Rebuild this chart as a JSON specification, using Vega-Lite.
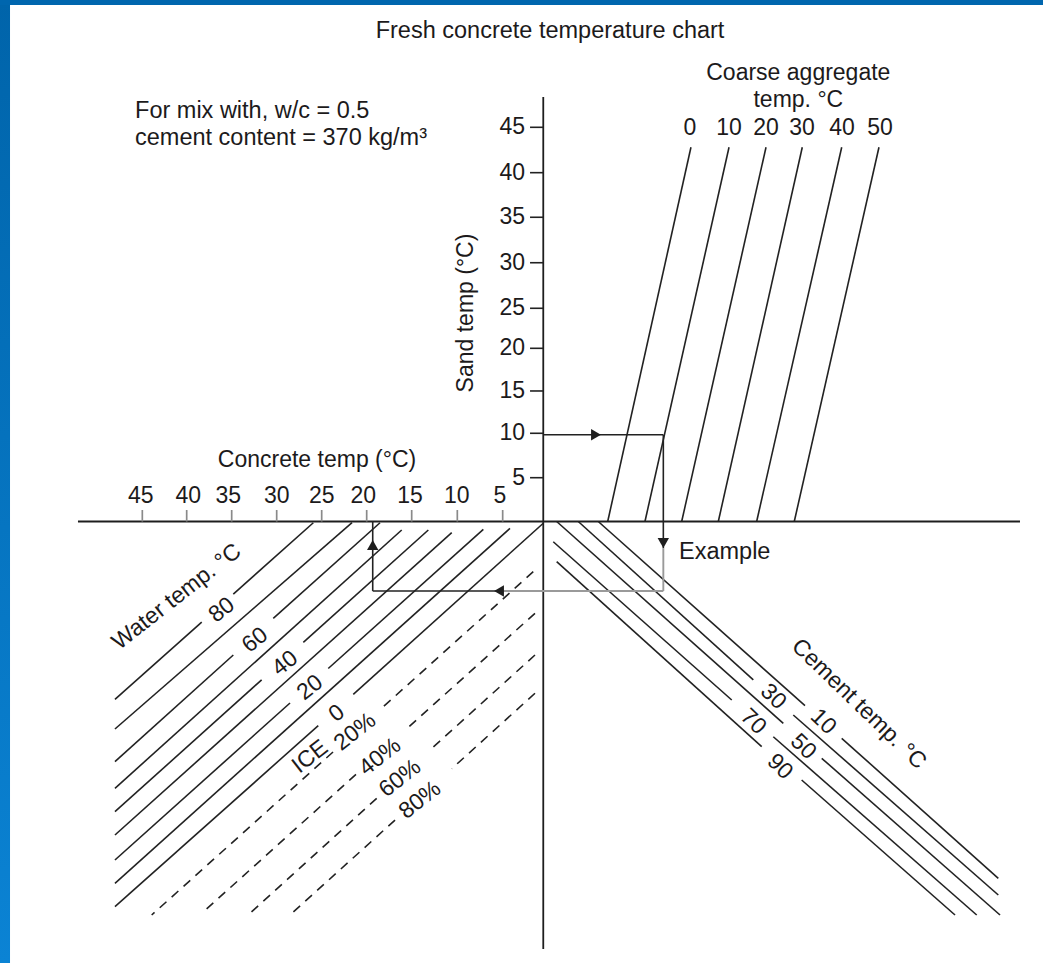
{
  "$schema": "https://vega.github.io/schema/vega-lite/v6.json",
  "width": 1043,
  "height": 963,
  "padding": 0,
  "autosize": {"type": "fit", "contains": "padding"},
  "background": "white",
  "config": {"view": {"stroke": null}, "text": {"font": "Liberation Sans", "color": "#1c1a1b"}},
  "datasets": {
    "frame": [
      {"part": "left", "x": 60.833, "x2": 59.72, "y": 59.532, "y2": -50.4},
      {"part": "top", "x": 60.833, "x2": -55.056, "y": 59.532, "y2": 58.96}
    ],
    "segs": [
      {"k": "axis", "x": 52.17, "y": 0, "x2": -52.5, "y2": 0},
      {"k": "axis", "x": 0.47, "y": 48.46, "x2": 0.47, "y2": -48.8},
      {"k": "solid", "x": 1.94, "y": 5.0, "x2": 0.47, "y2": 5.0},
      {"k": "solid", "x": 1.94, "y": 10.07, "x2": 0.47, "y2": 10.07},
      {"k": "solid", "x": 1.94, "y": 14.9, "x2": 0.47, "y2": 14.9},
      {"k": "solid", "x": 1.94, "y": 19.77, "x2": 0.47, "y2": 19.77},
      {"k": "solid", "x": 1.94, "y": 24.34, "x2": 0.47, "y2": 24.34},
      {"k": "solid", "x": 1.94, "y": 29.54, "x2": 0.47, "y2": 29.54},
      {"k": "solid", "x": 1.94, "y": 34.73, "x2": 0.47, "y2": 34.73},
      {"k": "solid", "x": 1.94, "y": 39.82, "x2": 0.47, "y2": 39.82},
      {"k": "solid", "x": 1.94, "y": 45.0, "x2": 0.47, "y2": 45.0},
      {"k": "tickc", "x": 45.02, "y": 0, "x2": 45.02, "y2": 1.31},
      {"k": "tickc", "x": 40.09, "y": 0, "x2": 40.09, "y2": 1.31},
      {"k": "tickc", "x": 35.09, "y": 0, "x2": 35.09, "y2": 1.31},
      {"k": "tickc", "x": 30.09, "y": 0, "x2": 30.09, "y2": 1.31},
      {"k": "tickc", "x": 25.09, "y": 0, "x2": 25.09, "y2": 1.31},
      {"k": "tickc", "x": 20.09, "y": 0, "x2": 20.09, "y2": 1.31},
      {"k": "tickc", "x": 15.09, "y": 0, "x2": 15.09, "y2": 1.31},
      {"k": "tickc", "x": 10.02, "y": 0, "x2": 10.02, "y2": 1.31},
      {"k": "tickc", "x": 4.98, "y": 0, "x2": 4.98, "y2": 1.31},
      {"k": "solid", "x": -6.69, "y": 0, "x2": -15.94, "y2": 42.72},
      {"k": "solid", "x": -10.83, "y": 0, "x2": -20.17, "y2": 42.72},
      {"k": "solid", "x": -14.91, "y": 0, "x2": -24.28, "y2": 42.72},
      {"k": "solid", "x": -18.98, "y": 0, "x2": -28.31, "y2": 42.72},
      {"k": "solid", "x": -23.24, "y": 0, "x2": -32.69, "y2": 42.72},
      {"k": "solid", "x": -27.42, "y": 0, "x2": -36.83, "y2": 42.72},
      {"k": "solid", "x": 48.06, "y": -20.3, "x2": 38.42, "y2": -11.48},
      {"k": "solid", "x": 34.91, "y": -8.28, "x2": 26.02, "y2": -0.14},
      {"k": "solid", "x": 48.06, "y": -23.69, "x2": 21.72, "y2": -0.14},
      {"k": "solid", "x": 48.06, "y": -27.42, "x2": 34.91, "y2": -15.24},
      {"k": "solid", "x": 30.47, "y": -11.05, "x2": 18.61, "y2": -0.14},
      {"k": "solid", "x": 48.06, "y": -30.46, "x2": 16.2, "y2": -0.97},
      {"k": "solid", "x": 48.06, "y": -33.13, "x2": 31.76, "y2": -18.07},
      {"k": "solid", "x": 27.13, "y": -13.8, "x2": 13.24, "y2": -0.97},
      {"k": "solid", "x": 48.06, "y": -35.79, "x2": 10.64, "y2": -1.28},
      {"k": "solid", "x": 48.06, "y": -38.64, "x2": 28.61, "y2": -20.72},
      {"k": "solid", "x": 24.36, "y": -16.78, "x2": 7.13, "y2": -0.89},
      {"k": "solid", "x": 48.06, "y": -41.3, "x2": 4.17, "y2": -0.78},
      {"k": "solid", "x": 48.06, "y": -43.97, "x2": 25.47, "y2": -23.3},
      {"k": "solid", "x": 21.58, "y": -19.74, "x2": 0.47, "y2": -0.2},
      {"k": "dash", "x": 1.58, "y": -5.73, "x2": 18.28, "y2": -21.18},
      {"k": "dash", "x": 23.83, "y": -26.31, "x2": 43.98, "y2": -44.92},
      {"k": "dash", "x": 1.39, "y": -10.48, "x2": 15.5, "y2": -23.53},
      {"k": "dash", "x": 21.28, "y": -28.87, "x2": 38.42, "y2": -44.73},
      {"k": "dash", "x": 1.39, "y": -15.24, "x2": 12.87, "y2": -25.92},
      {"k": "dash", "x": 18.98, "y": -31.61, "x2": 33.06, "y2": -44.73},
      {"k": "dash", "x": 1.39, "y": -19.61, "x2": 10.64, "y2": -28.22},
      {"k": "dash", "x": 16.94, "y": -34.08, "x2": 28.61, "y2": -44.92},
      {"k": "solid", "x": -5.64, "y": 0, "x2": -28.61, "y2": -21.03},
      {"k": "solid", "x": -32.69, "y": -24.75, "x2": -50.09, "y2": -40.73},
      {"k": "solid", "x": -3.42, "y": 0, "x2": -22.87, "y2": -18.09},
      {"k": "solid", "x": -27.31, "y": -22.09, "x2": -50.09, "y2": -42.64},
      {"k": "solid", "x": -1.02, "y": 0, "x2": -26.2, "y2": -23.04},
      {"k": "solid", "x": -30.47, "y": -27.03, "x2": -50.28, "y2": -44.92},
      {"k": "solid", "x": -0.64, "y": -2.31, "x2": -20.47, "y2": -20.38},
      {"k": "solid", "x": -25.09, "y": -24.57, "x2": -47.69, "y2": -44.92},
      {"k": "solid", "x": -1.02, "y": -4.59, "x2": -23.8, "y2": -25.71},
      {"k": "solid", "x": -28.24, "y": -29.51, "x2": -45.28, "y2": -44.92},
      {"k": "solid", "x": 0.47, "y": 9.9, "x2": -12.87, "y2": 9.9},
      {"k": "solid", "x": -12.87, "y": 9.9, "x2": -12.87, "y2": -3.03},
      {"k": "gray", "x": -12.87, "y": -3.03, "x2": -12.87, "y2": -7.93},
      {"k": "gray", "x": -12.87, "y": -7.93, "x2": 4.94, "y2": -7.93},
      {"k": "solid", "x": 4.94, "y": -7.93, "x2": 19.42, "y2": -7.93},
      {"k": "solid", "x": 19.42, "y": -7.93, "x2": 19.42, "y2": 0}
    ],
    "arrows": [
      {"x": -5.39, "y": 9.9, "d": "right"},
      {"x": -12.87, "y": -2.45, "d": "down"},
      {"x": 5.39, "y": -7.93, "d": "left"},
      {"x": 19.42, "y": -2.68, "d": "up"}
    ],
    "labels": [
      {"t": "Fresh concrete temperature chart", "x": -0.28, "y": 56.0, "g": "title"},
      {"t": "For mix with, w/c = 0.5", "x": 45.83, "y": 46.86, "g": "left"},
      {"t": "cement content = 370 kg/m³", "x": 45.83, "y": 43.78, "g": "left"},
      {"t": "Example", "x": -14.61, "y": -3.48, "g": "left"},
      {"t": "Coarse aggregate", "x": -27.87, "y": 51.16, "g": "center"},
      {"t": "temp. °C", "x": -27.87, "y": 48.12, "g": "center"},
      {"t": "0", "x": -15.83, "y": 44.92, "g": "center"},
      {"t": "10", "x": -20.17, "y": 44.92, "g": "center"},
      {"t": "20", "x": -24.28, "y": 44.92, "g": "center"},
      {"t": "30", "x": -28.28, "y": 44.92, "g": "center"},
      {"t": "40", "x": -32.72, "y": 44.92, "g": "center"},
      {"t": "50", "x": -36.94, "y": 44.92, "g": "center"},
      {"t": "45", "x": 45.2, "y": 2.9, "g": "center"},
      {"t": "40", "x": 39.91, "y": 2.9, "g": "center"},
      {"t": "35", "x": 35.47, "y": 2.9, "g": "center"},
      {"t": "30", "x": 30.09, "y": 2.9, "g": "center"},
      {"t": "25", "x": 25.09, "y": 2.9, "g": "center"},
      {"t": "20", "x": 20.47, "y": 2.9, "g": "center"},
      {"t": "15", "x": 15.28, "y": 2.9, "g": "center"},
      {"t": "10", "x": 10.09, "y": 2.9, "g": "center"},
      {"t": "5", "x": 5.28, "y": 2.9, "g": "center"},
      {"t": "Concrete temp (°C)", "x": 25.61, "y": 7.02, "g": "center"},
      {"t": "5", "x": 2.5, "y": 5.0, "g": "right"},
      {"t": "10", "x": 2.5, "y": 10.07, "g": "right"},
      {"t": "15", "x": 2.5, "y": 14.9, "g": "right"},
      {"t": "20", "x": 2.5, "y": 19.77, "g": "right"},
      {"t": "25", "x": 2.5, "y": 24.34, "g": "right"},
      {"t": "30", "x": 2.5, "y": 29.54, "g": "right"},
      {"t": "35", "x": 2.5, "y": 34.73, "g": "right"},
      {"t": "40", "x": 2.5, "y": 39.82, "g": "right"},
      {"t": "45", "x": 2.5, "y": 45.0, "g": "right"},
      {"t": "Sand temp (°C)", "x": 9.06, "y": 23.8, "g": "vertical"},
      {"t": "Water temp. °C", "x": 41.2, "y": -8.58, "g": "water"},
      {"t": "80", "x": 36.2, "y": -10.1, "g": "water"},
      {"t": "60", "x": 32.5, "y": -13.53, "g": "water"},
      {"t": "40", "x": 29.17, "y": -16.19, "g": "water"},
      {"t": "20", "x": 26.39, "y": -18.95, "g": "water"},
      {"t": "0", "x": 23.42, "y": -21.89, "g": "water"},
      {"t": "ICE", "x": 26.39, "y": -26.85, "g": "water"},
      {"t": "20%", "x": 21.39, "y": -24.0, "g": "water"},
      {"t": "40%", "x": 18.61, "y": -26.85, "g": "water"},
      {"t": "60%", "x": 16.39, "y": -29.32, "g": "water"},
      {"t": "80%", "x": 14.17, "y": -31.79, "g": "water"},
      {"t": "Cement temp. °C", "x": -34.61, "y": -20.83, "g": "cement"},
      {"t": "30", "x": -25.09, "y": -20.0, "g": "cement"},
      {"t": "10", "x": -30.64, "y": -22.85, "g": "cement"},
      {"t": "70", "x": -22.87, "y": -22.85, "g": "cement"},
      {"t": "50", "x": -28.42, "y": -25.71, "g": "cement"},
      {"t": "90", "x": -25.83, "y": -27.99, "g": "cement"}
    ]
  },
  "encoding": {
    "x": {"field": "x", "type": "quantitative", "scale": {"domain": [-55.056, 60.833], "reverse": true, "nice": false, "zero": false}, "axis": null},
    "y": {"field": "y", "type": "quantitative", "scale": {"domain": [-50.4, 59.532], "nice": false, "zero": false}, "axis": null}
  },
  "layer": [
    {
      "data": {"name": "frame"},
      "transform": [{"filter": "datum.part === 'left'"}],
      "mark": {"type": "rect", "fill": {"gradient": "linear", "x1": 0, "y1": 0, "x2": 0, "y2": 1, "stops": [{"offset": 0, "color": "#0064aa"}, {"offset": 1, "color": "#0b83d4"}]}, "opacity": 1},
      "encoding": {"x2": {"field": "x2"}, "y2": {"field": "y2"}}
    },
    {
      "data": {"name": "frame"},
      "transform": [{"filter": "datum.part === 'top'"}],
      "mark": {"type": "rect", "fill": "#0066ae", "opacity": 1},
      "encoding": {"x2": {"field": "x2"}, "y2": {"field": "y2"}}
    },
    {
      "data": {"name": "segs"},
      "transform": [{"filter": "datum.k === 'axis'"}],
      "mark": {"type": "rule", "stroke": "#1e1e1e", "strokeWidth": 1.8},
      "encoding": {"x2": {"field": "x2"}, "y2": {"field": "y2"}}
    },
    {
      "data": {"name": "segs"},
      "transform": [{"filter": "datum.k === 'tickc'"}],
      "mark": {"type": "rule", "stroke": "#8a8a8a", "strokeWidth": 1.7},
      "encoding": {"x2": {"field": "x2"}, "y2": {"field": "y2"}}
    },
    {
      "data": {"name": "segs"},
      "transform": [{"filter": "datum.k === 'solid'"}],
      "mark": {"type": "rule", "stroke": "#222222", "strokeWidth": 1.6},
      "encoding": {"x2": {"field": "x2"}, "y2": {"field": "y2"}}
    },
    {
      "data": {"name": "segs"},
      "transform": [{"filter": "datum.k === 'dash'"}],
      "mark": {"type": "rule", "stroke": "#222222", "strokeWidth": 1.6, "strokeDash": [9, 7]},
      "encoding": {"x2": {"field": "x2"}, "y2": {"field": "y2"}}
    },
    {
      "data": {"name": "segs"},
      "transform": [{"filter": "datum.k === 'gray'"}],
      "mark": {"type": "rule", "stroke": "#9a9a9a", "strokeWidth": 1.9},
      "encoding": {"x2": {"field": "x2"}, "y2": {"field": "y2"}}
    },
    {
      "data": {"name": "arrows"},
      "mark": {"type": "point", "filled": true, "color": "#1e1e1e", "opacity": 1, "size": 130},
      "encoding": {"shape": {"field": "d", "type": "nominal", "scale": {"domain": ["right", "down", "left", "up"], "range": ["triangle-right", "triangle-down", "triangle-left", "triangle-up"]}, "legend": null}}
    },
    {
      "data": {"name": "labels"},
      "transform": [{"filter": "datum.g === 'title'"}],
      "mark": {"type": "text", "fontSize": 23.5, "align": "center", "baseline": "middle"},
      "encoding": {"text": {"field": "t"}}
    },
    {
      "data": {"name": "labels"},
      "transform": [{"filter": "datum.g === 'center'"}],
      "mark": {"type": "text", "fontSize": 23, "align": "center", "baseline": "middle"},
      "encoding": {"text": {"field": "t"}}
    },
    {
      "data": {"name": "labels"},
      "transform": [{"filter": "datum.g === 'left'"}],
      "mark": {"type": "text", "fontSize": 23.5, "align": "left", "baseline": "middle"},
      "encoding": {"text": {"field": "t"}}
    },
    {
      "data": {"name": "labels"},
      "transform": [{"filter": "datum.g === 'right'"}],
      "mark": {"type": "text", "fontSize": 23, "align": "right", "baseline": "middle"},
      "encoding": {"text": {"field": "t"}}
    },
    {
      "data": {"name": "labels"},
      "transform": [{"filter": "datum.g === 'vertical'"}],
      "mark": {"type": "text", "fontSize": 23, "align": "center", "baseline": "middle", "angle": 270},
      "encoding": {"text": {"field": "t"}}
    },
    {
      "data": {"name": "labels"},
      "transform": [{"filter": "datum.g === 'water'"}],
      "mark": {"type": "text", "fontSize": 23, "align": "center", "baseline": "middle", "angle": 322},
      "encoding": {"text": {"field": "t"}}
    },
    {
      "data": {"name": "labels"},
      "transform": [{"filter": "datum.g === 'cement'"}],
      "mark": {"type": "text", "fontSize": 23, "align": "center", "baseline": "middle", "angle": 44},
      "encoding": {"text": {"field": "t"}}
    }
  ]
}
